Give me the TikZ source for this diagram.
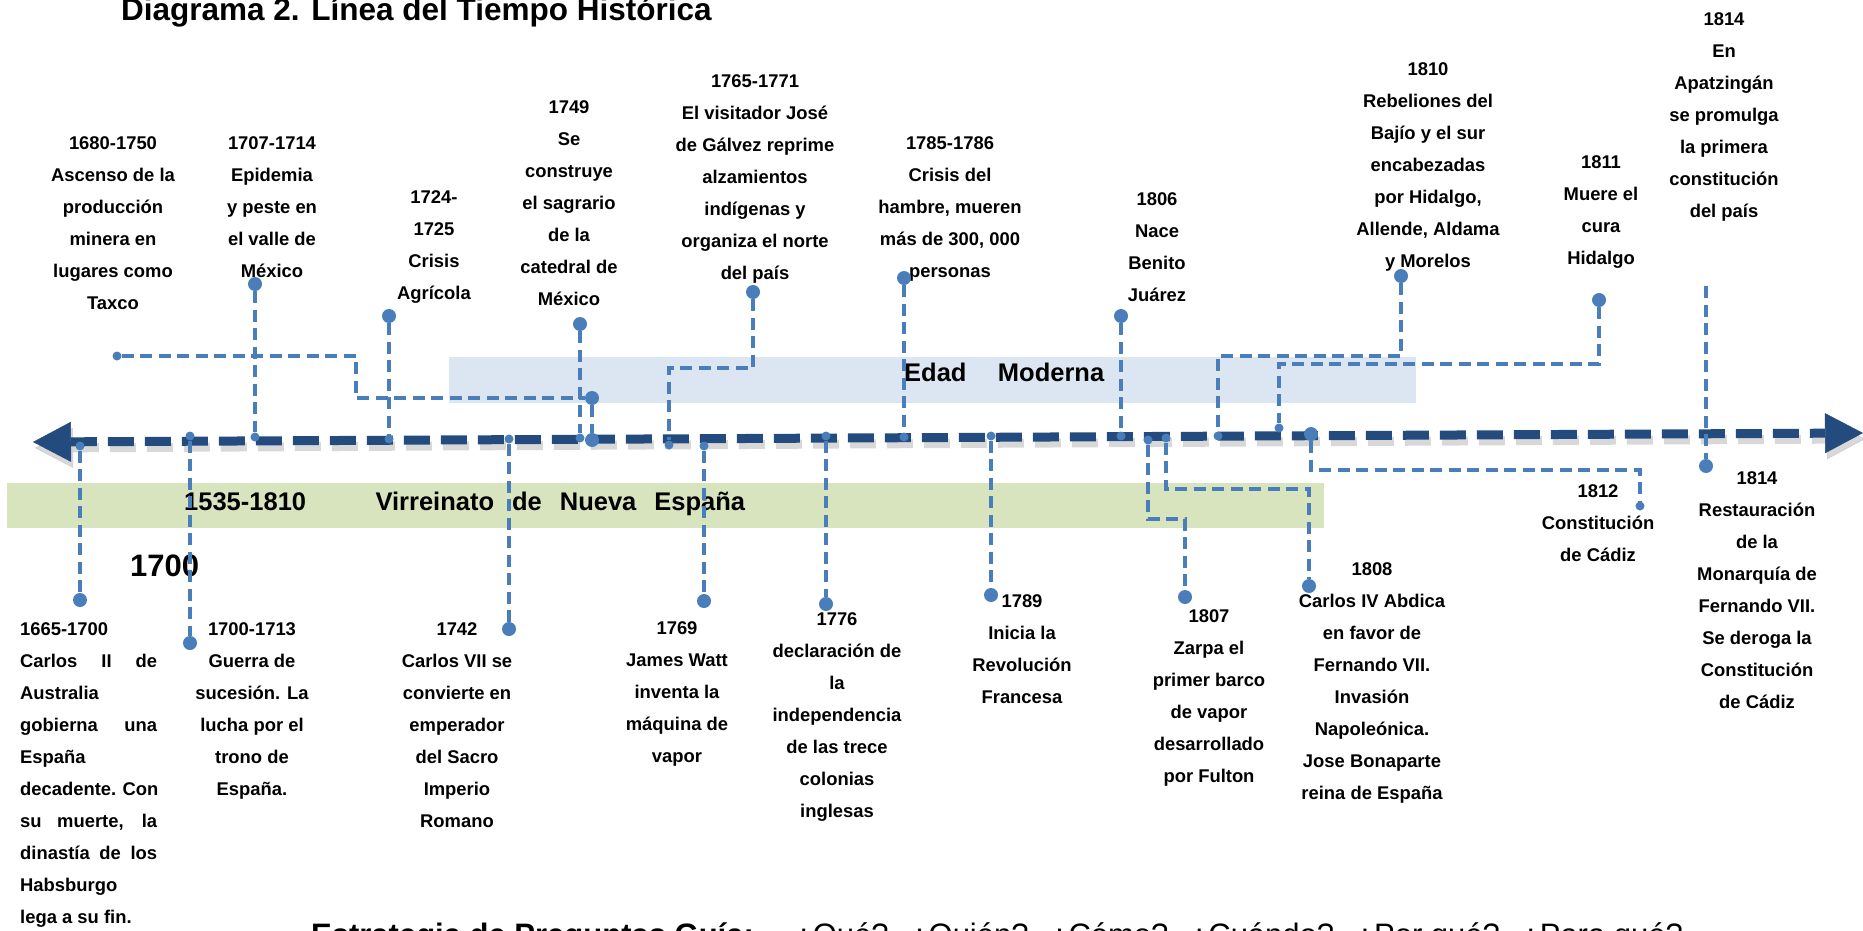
\documentclass[tikz,border=0pt]{standalone}
\usepackage{fontspec}
\setmainfont{Liberation Sans}
\usepackage{tikz}
\usetikzlibrary{arrows.meta,positioning}
\definecolor{axisblue}{HTML}{234B7E}
\definecolor{linkblue}{HTML}{4A7EBB}
\definecolor{modblue}{HTML}{DCE6F2}
\definecolor{virgreen}{HTML}{D7E4BD}
\newcommand{\jline}[1]{\makebox[137pt][s]{#1}}
\tikzset{
    %Define style for the event texts
    event/.style={
           align=center,
           inner sep=0pt,
           anchor=north,
           font=\fontsize{18.4}{32}\selectfont\bfseries},
    %Define style for the band texts
    bandtxt/.style={
           inner sep=0pt,
           anchor=base west,
           font=\fontsize{25.5}{30}\selectfont\bfseries},
    bigtxt/.style={
           inner sep=0pt,
           anchor=base west,
           font=\fontsize{31.5}{36}\selectfont\bfseries},
    %Define style for the dots
    bigdot/.style={
           circle,
           fill=linkblue,
           inner sep=0pt,
           minimum size=14pt},
    smalldot/.style={
           circle,
           fill=linkblue,
           inner sep=0pt,
           minimum size=9pt},
    % Define dashed connector style
    conn/.style={
           draw=linkblue,
           line width=4pt,
           dash pattern=on 12pt off 6.5pt},
    % Define time axis style
    timeaxis/.style={
           draw=axisblue,
           line width=9pt,
           dash pattern=on 26pt off 11pt,
           {Triangle[length=38pt,width=40pt,line width=0.5pt]}-{Triangle[length=38pt,width=40pt,line width=0.5pt]}}
}
\begin{document}
\begin{tikzpicture}[x=1pt,y=-1pt]
\useasboundingbox (0,0) rectangle (1863,931);
%bands
\fill[virgreen] (7,483) rectangle (1324,528);
\fill[modblue] (449,357) rectangle (1416,403);
\node[bandtxt] (era1) at (184,510) {1535-1810};
\node[bandtxt, base right=69pt of era1] (era1txt) {Virreinato\hspace{18pt}de\hspace{18pt}Nueva\hspace{18pt}España};
\node[bandtxt] (edad) at (904,381) {Edad};
\node[bandtxt, base right=31pt of edad] (moderna) {Moderna};
\node[bigtxt] (title) at (121,21) {Diagrama 2. Línea del Tiempo Histórica};
\node[bigtxt, font=\fontsize{31}{36}\selectfont\bfseries] (y1700) at (130,576) {1700};
\node[anchor=base west, inner sep=0pt, font=\fontsize{31}{36}\selectfont] (guia) at (311,945)
  {\textbf{Estrategia de Preguntas Guía:}\hspace{40pt}¿Qué?\hspace{21pt}¿Quién?\hspace{21pt}¿Cómo?\hspace{21pt}¿Cuándo?\hspace{21pt}¿Por qué?\hspace{21pt}¿Para qué?};

%labels above the axis
\node[event] (t1680) at (113,136) {1680-1750\\Ascenso de la\\producción\\minera en\\lugares como\\Taxco};
\node[event] (t1707) at (272,136) {1707-1714\\Epidemia\\y peste en\\el valle de\\México};
\node[event] (t1724) at (434,190) {1724-\\1725\\Crisis\\Agrícola};
\node[event] (t1749) at (569,100) {1749\\Se\\construye\\el sagrario\\de la\\catedral de\\México};
\node[event] (t1765) at (755,74) {1765-1771\\El visitador José\\de Gálvez reprime\\alzamientos\\indígenas y\\organiza el norte\\del país};
\node[event] (t1785) at (950,136) {1785-1786\\Crisis del\\hambre, mueren\\más de 300, 000\\personas};
\node[event] (t1806) at (1157,192) {1806\\Nace\\Benito\\Juárez};
\node[event] (t1810) at (1428,62) {1810\\Rebeliones del\\Bajío y el sur\\encabezadas\\por Hidalgo,\\Allende, Aldama\\y Morelos};
\node[event] (t1811) at (1601,155) {1811\\Muere el\\cura\\Hidalgo};
\node[event] (t1814) at (1724,12) {1814\\En\\Apatzingán\\se promulga\\la primera\\constitución\\del país};

%labels below the axis
\node[event, anchor=north west, align=left] (t1665) at (20,622) {1665-1700\\\jline{Carlos II de}\\Australia\\\jline{gobierna una}\\España\\\jline{decadente. Con}\\\jline{su muerte, la}\\\jline{dinastía de los}\\Habsburgo\\lega a su fin.};
\node[event] (t1700) at (252,622) {1700-1713\\Guerra de\\sucesión. La\\lucha por el\\trono de\\España.};
\node[event] (t1742) at (457,622) {1742\\Carlos VII se\\convierte en\\emperador\\del Sacro\\Imperio\\Romano};
\node[event] (t1769) at (677,621) {1769\\James Watt\\inventa la\\máquina de\\vapor};
\node[event] (t1776) at (837,612) {1776\\declaración de\\la\\independencia\\de las trece\\colonias\\inglesas};
\node[event] (t1789) at (1022,594) {1789\\Inicia la\\Revolución\\Francesa};
\node[event] (t1807) at (1209,609) {1807\\Zarpa el\\primer barco\\de vapor\\desarrollado\\por Fulton};
\node[event] (t1808) at (1372,562) {1808\\Carlos IV Abdica\\en favor de\\Fernando VII.\\Invasión\\Napoleónica.\\Jose Bonaparte\\reina de España};
\node[event] (t1812) at (1598,484) {1812\\Constitución\\de Cádiz};
\node[event] (t1814b) at (1757,471) {1814\\Restauración\\de la\\Monarquía de\\Fernando VII.\\Se deroga la\\Constitución\\de Cádiz};

%time axis
\coordinate (axl) at (33,442);
\coordinate (axr) at (1863,433);
\draw[timeaxis, draw=black!30, opacity=.5, transform canvas={shift={(2pt,-6pt)}}] (axl) -- (axr);
\draw[timeaxis] (axl) -- (axr);

%dots above the axis
\node[smalldot] (d1680) at (117,356) {};
\node[bigdot] (m1680) at (592,398) {};
\node[bigdot] (d1707) at (255,284) {};
\node[bigdot] (d1724) at (389,316) {};
\node[bigdot] (d1749) at (580,324) {};
\node[bigdot] (d1765) at (753,292) {};
\node[bigdot] (d1785) at (904,278) {};
\node[bigdot] (d1806) at (1121,316) {};
\node[bigdot] (d1810) at (1401,276) {};
\node[bigdot] (d1811) at (1599,300) {};
\coordinate (d1814) at (1706,286);
%dots on the axis
\node[bigdot] (a1680) at (592,440) {};
\node[smalldot] (a1707) at (255,437) {};
\node[smalldot] (a1724) at (389,439) {};
\node[smalldot] (a1749) at (580,438) {};
\node[smalldot] (a1765) at (669,445) {};
\node[smalldot] (a1785) at (904,437) {};
\node[smalldot] (a1806) at (1121,436) {};
\node[smalldot] (a1810) at (1218,436) {};
\node[smalldot] (a1811) at (1279,428) {};
\node[smalldot] (a1665) at (80,446) {};
\node[smalldot] (a1700) at (190,436) {};
\node[smalldot] (a1742) at (509,439) {};
\node[smalldot] (a1769) at (704,446) {};
\node[smalldot] (a1776) at (826,436) {};
\node[smalldot] (a1789) at (991,436) {};
\node[smalldot] (a1807) at (1148,440) {};
\node[smalldot] (a1808) at (1166,438) {};
\node[bigdot] (a1812) at (1311,434) {};
%dots below the axis
\node[bigdot] (b1665) at (80,600) {};
\node[bigdot] (b1700) at (190,643) {};
\node[bigdot] (b1742) at (509,629) {};
\node[bigdot] (b1769) at (704,601) {};
\node[bigdot] (b1776) at (826,604) {};
\node[bigdot] (b1789) at (991,595) {};
\node[bigdot] (b1807) at (1185,597) {};
\node[bigdot] (b1808) at (1309,586) {};
\node[smalldot] (b1812) at (1640,506) {};
\node[bigdot] (b1814) at (1706,466) {};
%corners
\coordinate (c1680) at (356,398);
\coordinate (c1765) at (669,368);
\coordinate (c1810) at (1218,356);
\coordinate (c1811) at (1279,364);
\coordinate (c1807) at (1185,519);
\coordinate (c1808) at (1309,489);
\coordinate (c1812) at (1640,470);

%connectors
\draw[conn] (d1680) -| (c1680) -- (m1680);
\draw[conn] (m1680) -- (a1680);
\draw[conn] (d1707) -- (a1707);
\draw[conn] (d1724) -- (a1724);
\draw[conn] (d1749) -- (a1749);
\draw[conn] (d1765) |- (c1765) -- (a1765);
\draw[conn] (d1785) -- (a1785);
\draw[conn] (d1806) -- (a1806);
\draw[conn] (d1810) |- (c1810) -- (a1810);
\draw[conn] (d1811) |- (c1811) -- (a1811);
\draw[conn] (d1814) -- (b1814);
\draw[conn] (a1665) -- (b1665);
\draw[conn] (a1700) -- (b1700);
\draw[conn] (a1742) -- (b1742);
\draw[conn] (a1769) -- (b1769);
\draw[conn] (a1776) -- (b1776);
\draw[conn] (a1789) -- (b1789);
\draw[conn] (a1807) |- (c1807) -- (b1807);
\draw[conn] (a1808) |- (c1808) -- (b1808);
\draw[conn] (a1812) |- (c1812) -- (b1812);
\end{tikzpicture}
\end{document}
